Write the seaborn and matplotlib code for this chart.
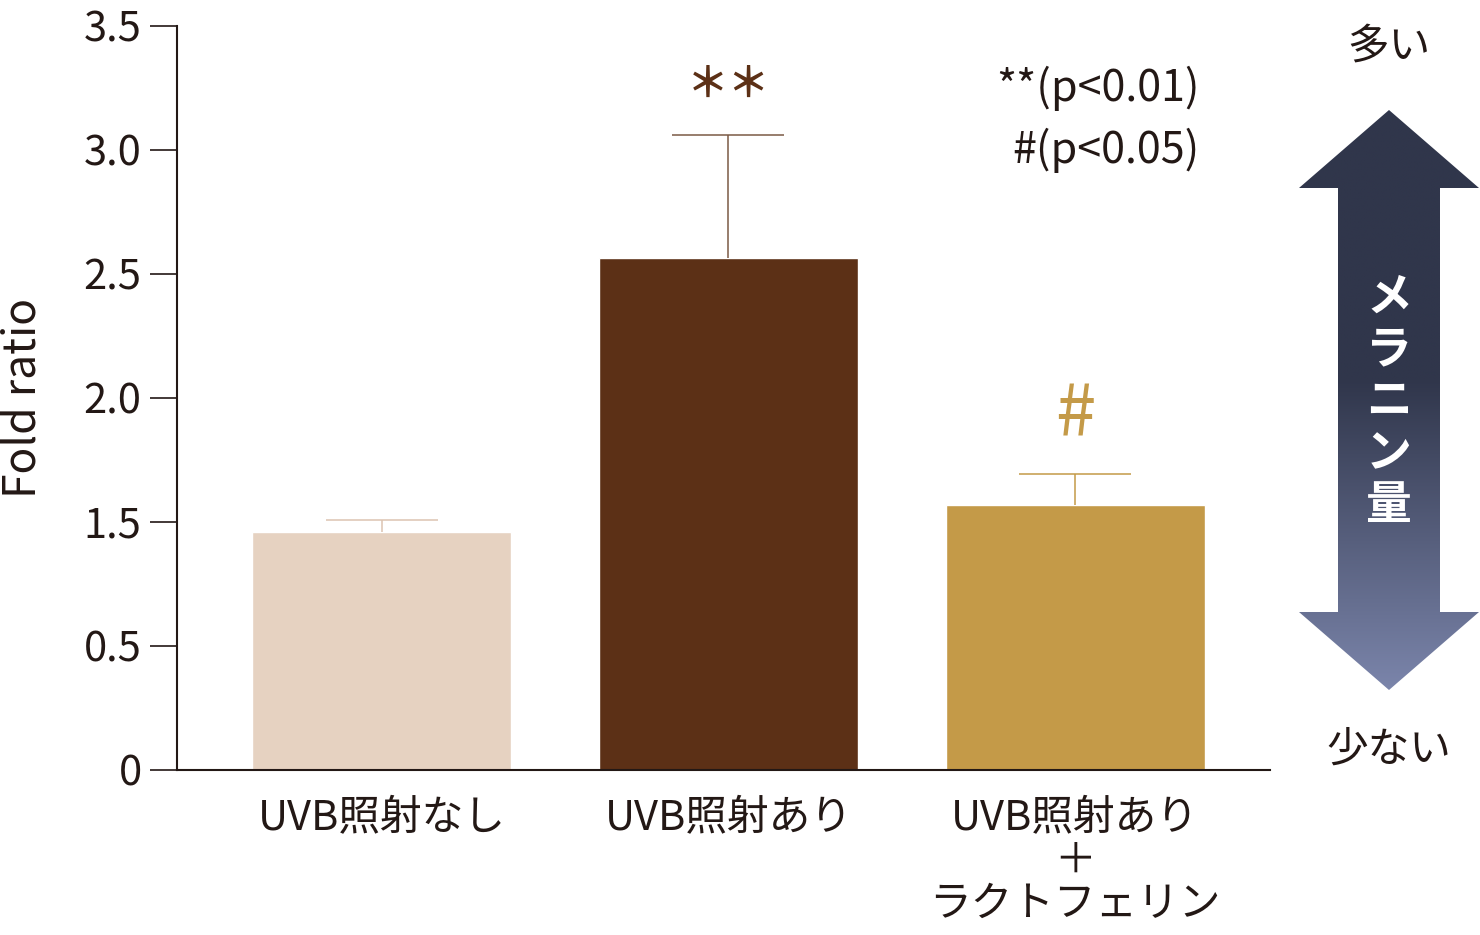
import numpy as np
import pandas as pd
import matplotlib
matplotlib.use('Agg')
import matplotlib.pyplot as plt
import seaborn as sns
from matplotlib.patches import Polygon

# data
groups = ['UVB照射なし', 'UVB照射あり', 'UVB照射あり\n＋\nラクトフェリン']
fold_ratio = [1.42, 2.565, 1.57]
err_upper = [0.09, 0.497, 0.125]
sig_marks = ['', '＊＊', '#']
tick_vals = [0, 0.5, 1.5, 2.0, 2.5, 3.0, 3.5]
tick_labels = ['0', '0.5', '1.5', '2.0', '2.5', '3.0', '3.5']

bar_colors = ['#e6d2c1', '#5c3016', '#c49a48']
err_colors = ['#dcc4b1', '#7b5a45', '#c49a48']
txt = '#231815'

sns.set_style('white')
plt.rcParams['font.family'] = ['Noto Sans CJK JP', 'DejaVu Sans']

# y axis is compressed between 0.5 and 1.5 (no 1.0 tick)
def fwd(v):
    v = np.asarray(v, dtype=float)
    return np.where(v < 0.5, v * 2, np.where(v < 1.5, 1 + (v - 0.5), 2 + (v - 1.5) * 2))

def inv(u):
    u = np.asarray(u, dtype=float)
    return np.where(u < 1, u / 2, np.where(u < 2, 0.5 + (u - 1), 1.5 + (u - 2) / 2))

df = pd.DataFrame({'group': groups, 'ratio': fold_ratio})

fig = plt.figure(figsize=(14.8, 9.35), dpi=100)
ax = fig.add_axes([177 / 1480, 165 / 935, 1093 / 1480, 744 / 935])
ax.set_yscale('function', functions=(fwd, inv))

sns.barplot(data=df, x='group', y='ratio', hue='group', palette=bar_colors,
            width=0.747, legend=False, ax=ax, saturation=1)

for i in range(len(groups)):
    eb = ax.errorbar(i, fold_ratio[i], yerr=[[0], [err_upper[i]]], color=err_colors[i],
                     elinewidth=1.1, capsize=40, capthick=1.1, zorder=1)
    eb[1][0].set_visible(False)  # no cap at the bar top
    if sig_marks[i]:
        off = 36 if i == 1 else 42
        size = 30 if i == 1 else 52
        ax.annotate(sig_marks[i], (i, fold_ratio[i] + err_upper[i]), xytext=(0, off),
                    textcoords='offset points', ha='center', va='center',
                    fontsize=size, color=bar_colors[i],
                    fontweight='bold' if i == 1 else 'normal')

ax.set_ylim(0, 3.5)
ax.set_xlim(-0.59, 2.562)
ax.set_yticks(tick_vals)
ax.set_yticklabels(tick_labels)
ax.minorticks_off()
ax.set_xlabel('')
ax.set_ylabel('')
sns.despine(ax=ax)
for s in ['left', 'bottom']:
    ax.spines[s].set_color(txt)
    ax.spines[s].set_linewidth(1.5)
ax.tick_params(axis='y', length=19.5, width=1.2, color=txt, pad=6, labelsize=30, labelcolor=txt, left=True)
ax.tick_params(axis='x', length=0, pad=20, labelsize=30, labelcolor=txt)
for lbl in ax.get_xticklabels():
    lbl.set_linespacing(1.07)
    lbl.set_verticalalignment('top')

fig.text(23 / 1480, 1 - 398 / 935, 'Fold ratio', rotation=90, ha='center', va='center',
         fontsize=32, color=txt)
fig.text(1200 / 1480, 1 - 88 / 935, '**(p<0.01)', ha='right', va='center', fontsize=31, color=txt)
fig.text(1200 / 1480, 1 - 150 / 935, '#(p<0.05)', ha='right', va='center', fontsize=31, color=txt)

# arrow on the right
ov = fig.add_axes([0, 0, 1, 1])
ov.patch.set_alpha(0)
ov.axis('off')
arrow_pts = [(1389, 110), (1479, 188), (1440, 188), (1440, 612), (1479, 612), (1389, 690),
             (1299, 612), (1338, 612), (1338, 188), (1299, 188)]
poly = Polygon(arrow_pts, closed=True, facecolor='none', edgecolor='none')
ov.add_patch(poly)
top_c = np.array(matplotlib.colors.to_rgb('#30364b'))
bot_c = np.array(matplotlib.colors.to_rgb('#7b85ab'))
ys = np.linspace(110, 690, 400)
t = np.clip((ys - 380) / (690 - 380), 0, 1)[:, None]
grad = (top_c * (1 - t) + bot_c * t)[:, None, :]
im = ov.imshow(grad, extent=(1299, 1479, 690, 110), aspect='auto', interpolation='bilinear')
im.set_clip_path(poly)
ov.set_xlim(0, 1480)
ov.set_ylim(935, 0)

ov.text(1389, 402, 'メ\nラ\nニ\nン\n量', ha='center', va='center', color='white',
        fontsize=33, fontweight='bold', linespacing=1.17)
ov.text(1389, 47, '多い', ha='center', va='center', fontsize=30, color=txt)
ov.text(1389, 750, '少ない', ha='center', va='center', fontsize=30, color=txt)

fig.savefig('out.png', dpi=100)
